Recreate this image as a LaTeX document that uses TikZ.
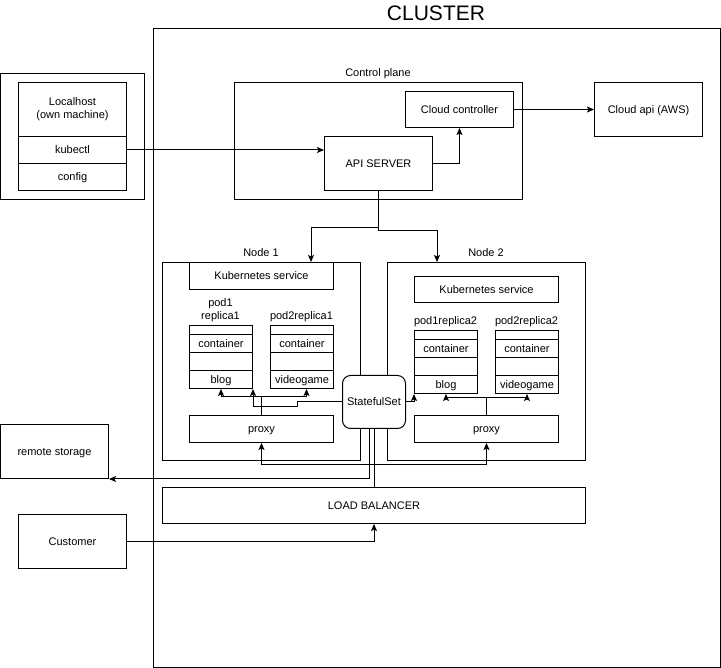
\documentclass[tikz,border=0pt]{standalone}
\usepackage{fontspec}
\setmainfont{Liberation Sans}
\usetikzlibrary{arrows.meta,calc}
\begin{document}
\begin{tikzpicture}[x=1pt,y=-1pt, line width=1pt,
  font=\fontsize{11}{13}\selectfont,
  box/.style={draw, rectangle, inner sep=0pt, anchor=north west, align=center, fill=white, text height=10pt, text depth=2.3pt},
  lbl/.style={inner sep=0pt, align=center, text height=10pt, text depth=2.3pt},
  multi/.style={text height=, text depth=},
  arr/.style={-{Stealth[length=7pt,width=6pt,inset=1.5pt]}}]
\useasboundingbox (0,0) rectangle (721,668);
% cluster
\node[box, minimum width=567pt, minimum height=639pt] (cluster) at (153,28) {};
\node[inner sep=0pt] (title) at (436,13) {\fontsize{21}{24}\selectfont CLUSTER};
% localhost
\node[box, minimum width=144pt, minimum height=126pt] (local) at (0,73) {};
\node[box, multi, minimum width=108pt, minimum height=54pt] (lh) at (18,82) {Localhost\\(own machine)};
\node[box, minimum width=108pt, minimum height=27pt] (kubectl) at (18,136) {kubectl};
\node[box, minimum width=108pt, minimum height=27pt] (config) at (18,163) {config};
% control plane
\node[box, minimum width=288pt, minimum height=117pt] (cp) at (234,82) {};
\node[lbl] (cplabel) at (378,73) {Control plane};
\node[box, minimum width=108pt, minimum height=36pt] (cc) at (405,91) {Cloud controller};
\node[box, minimum width=108pt, minimum height=54pt] (api) at (324,136) {API SERVER};
\node[box, minimum width=108pt, minimum height=54pt] (aws) at (594,82) {Cloud api (AWS)};
% node 1
\node[box, minimum width=198pt, minimum height=198pt] (node1) at (162,262) {};
\node[lbl] (n1label) at (261,253) {Node 1};
\node[box, minimum width=144pt, minimum height=27pt] (ks1) at (189,262) {Kubernetes service};
\node[lbl, multi] (p1lab) at (220.5,310) {pod1\\replica1};
\node[box, minimum width=63pt, minimum height=9pt] (p1a) at (189,325) {};
\node[box, minimum width=63pt, minimum height=18pt] (p1b) at (189,334) {container};
\node[box, minimum width=63pt, minimum height=18pt] (p1c) at (189,352) {};
\node[box, minimum width=63pt, minimum height=18pt] (p1d) at (189,370) {blog};
\node[lbl] (p2lab) at (301.5,316) {pod2replica1};
\node[box, minimum width=63pt, minimum height=9pt] (p2a) at (270,325) {};
\node[box, minimum width=63pt, minimum height=18pt] (p2b) at (270,334) {container};
\node[box, minimum width=63pt, minimum height=18pt] (p2c) at (270,352) {};
\node[box, minimum width=63pt, minimum height=18pt] (p2d) at (270,370) {videogame};
\node[box, minimum width=144pt, minimum height=27pt] (proxy1) at (189,415) {proxy};
% node 2
\node[box, minimum width=198pt, minimum height=198pt] (node2) at (387,262) {};
\node[lbl] (n2label) at (486,253) {Node 2};
\node[box, minimum width=144pt, minimum height=26pt] (ks2) at (414,276) {Kubernetes service};
\node[lbl] (p3lab) at (445.5,321) {pod1replica2};
\node[box, minimum width=63pt, minimum height=9pt] (p3a) at (414,330) {};
\node[box, minimum width=63pt, minimum height=18pt] (p3b) at (414,339) {container};
\node[box, minimum width=63pt, minimum height=18pt] (p3c) at (414,357) {};
\node[box, minimum width=63pt, minimum height=18pt] (p3d) at (414,375) {blog};
\node[lbl] (p4lab) at (526.5,321) {pod2replica2};
\node[box, minimum width=63pt, minimum height=9pt] (p4a) at (495,330) {};
\node[box, minimum width=63pt, minimum height=18pt] (p4b) at (495,339) {container};
\node[box, minimum width=63pt, minimum height=18pt] (p4c) at (495,357) {};
\node[box, minimum width=63pt, minimum height=18pt] (p4d) at (495,375) {videogame};
\node[box, minimum width=144pt, minimum height=27pt] (proxy2) at (414,415) {proxy};
% statefulset
\node[box, rounded corners=8pt, minimum width=63pt, minimum height=53pt] (ss) at (342,375) {StatefulSet};
% bottom
\node[box, minimum width=423pt, minimum height=36pt] (lb) at (162,487) {LOAD BALANCER};
\node[box, minimum width=108pt, minimum height=54pt] (rs) at (0,424) {remote storage};
\node[box, minimum width=108pt, minimum height=54pt] (cust) at (18,514) {Customer};
% connectors
\draw[arr] (kubectl.east) -- (kubectl.east -| api.west);
\draw[arr] (api.east) -| (cc.south);
\draw[arr] (cc.east) -- (aws.west);
\draw[arr] (api.south) -- ++(0,37) -| ([xshift=149pt]node1.north west);
\draw[arr] (api.south) -- ++(0,40) -| ([xshift=50pt]node2.north west);
\draw[arr] (proxy1.north) -- ++(0,-18) -| (p1d.south);
\draw[arr] (proxy1.north) -- ++(0,-18) -| ([xshift=4.5pt]p2d.south);
\draw[arr] (ss.west) -- ++(-45,0) -- ++(0,5) -| (p1d.south east);
\draw[arr] (ss.east) -| (p3d.south west);
\draw[arr] (proxy2.north) -- ++(0,-17) -| (p3d.south);
\draw[arr] (proxy2.north) -- ++(0,-17) -| (p4d.south);
\draw (ss.south) -- (lb.north);
\draw[arr] (lb.north) -- ++(0,-22) -| (proxy1.south);
\draw[arr] (lb.north) -- ++(0,-22) -| (proxy2.south);
\draw[arr] ([xshift=-4.5pt]ss.south) |- (rs.south east);
\draw[arr] (cust.east) -| (lb.south);
\end{tikzpicture}
\end{document}
